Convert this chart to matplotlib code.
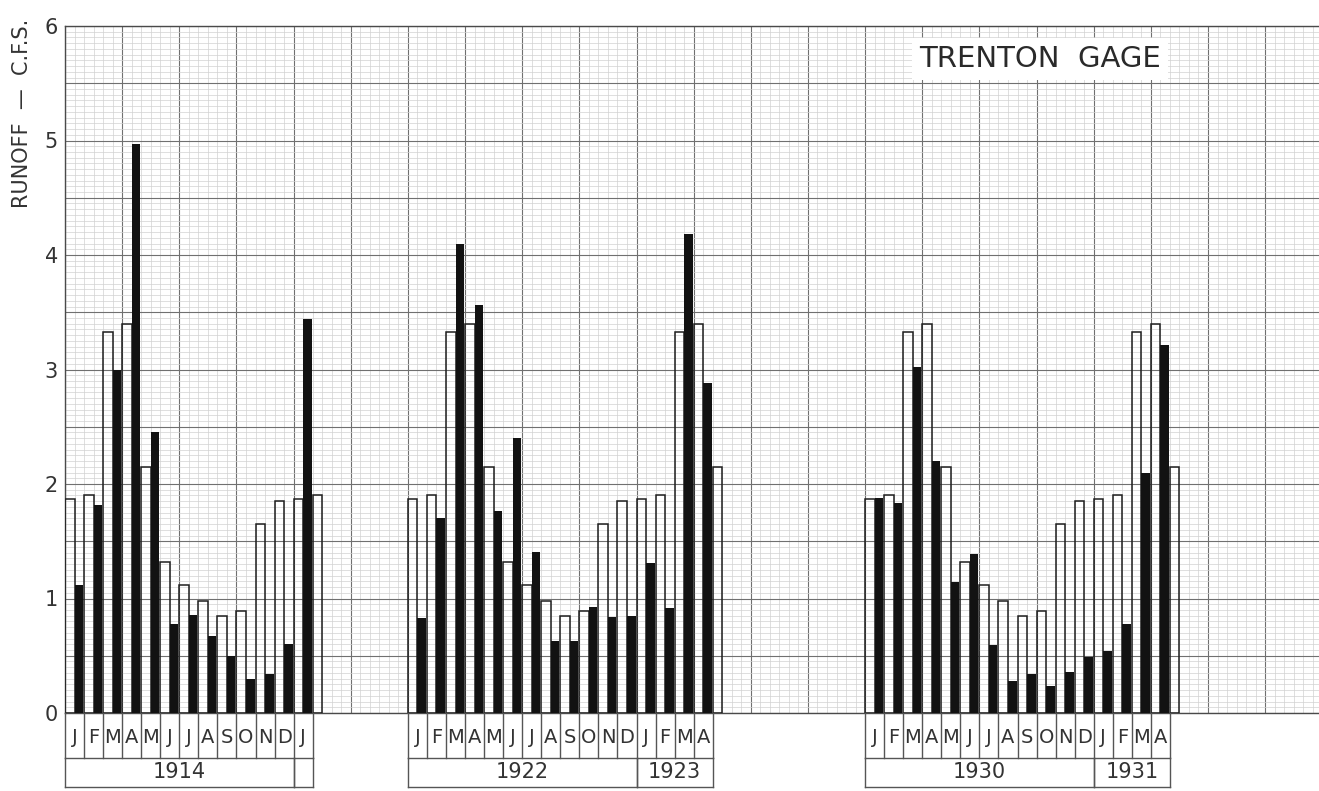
import matplotlib
matplotlib.use("Agg")
import matplotlib.pyplot as plt
from matplotlib.ticker import MultipleLocator, FuncFormatter

# Long-term mean monthly runoff (open bars), Jan..Dec
month_letters = ["J", "F", "M", "A", "M", "J", "J", "A", "S", "O", "N", "D"]
normal_runoff = [1.87, 1.90, 3.33, 3.40, 2.15, 1.32, 1.12, 0.98, 0.85, 0.89, 1.65, 1.85]

# Recorded monthly runoff (filled bars) for each period, starting in January
observed_1914 = [1.12, 1.82, 3.00, 4.97, 2.45, 0.78, 0.86, 0.67, 0.50, 0.30, 0.34, 0.60, 3.44]
observed_1922 = [0.83, 1.70, 4.10, 3.56, 1.76, 2.40, 1.41, 0.63, 0.63, 0.93, 0.84, 0.85,
                 1.31, 0.92, 4.18, 2.88]
observed_1930 = [1.88, 1.83, 3.02, 2.20, 1.14, 1.39, 0.59, 0.28, 0.34, 0.24, 0.36, 0.49,
                 0.54, 0.78, 2.10, 3.21]

# Month offset of each period on the time axis, and year spans below it
period_starts = [0, 18, 42]
period_observed = [observed_1914, observed_1922, observed_1930]
period_years = [
    [("1914", 0, 12), ("", 12, 13)],
    [("1922", 0, 12), ("1923", 12, 16)],
    [("1930", 0, 12), ("1931", 12, 16)],
]

W, H = 1319, 791
fig = plt.figure(figsize=(W / 100, H / 100), dpi=100)
fig.patch.set_facecolor("white")
ax = fig.add_axes([65 / W, 1 - 713 / H, (W - 65) / W, (713 - 26) / H])
ax.set_xlim(0, (W - 65) / 19.05)
ax.set_ylim(0, 6)

# graph-paper ruling
ax.xaxis.set_major_locator(MultipleLocator(3))
ax.xaxis.set_minor_locator(MultipleLocator(0.5))
ax.yaxis.set_major_locator(MultipleLocator(0.5))
ax.yaxis.set_minor_locator(MultipleLocator(0.05))
ax.grid(which="major", color="#707070", lw=0.8, zorder=1)
ax.grid(which="minor", color="#d2d2d2", lw=0.5, zorder=0)
ax.set_axisbelow(True)
ax.tick_params(which="both", length=0, labelbottom=False)
ax.yaxis.set_major_formatter(
    FuncFormatter(lambda v, pos: f"{int(round(v))}" if abs(v - round(v)) < 1e-6 else ""))
ax.tick_params(axis="y", pad=5, labelsize=15, labelcolor="#333333")
ax.spines["right"].set_visible(False)
for side in ["left", "top", "bottom"]:
    ax.spines[side].set_color("#4a4a4a")
    ax.spines[side].set_linewidth(1.0)

box_kw = dict(color="#555555", lw=1.0, clip_on=False, zorder=5)
row1, row2, row3 = 0.0, -0.393, -0.646

for start, obs, years in zip(period_starts, period_observed, period_years):
    n = len(obs)
    # open bars: mean runoff, one more month than the record
    open_x = [start + i for i in range(n + 1)]
    open_v = [normal_runoff[i % 12] for i in range(n + 1)]
    ax.bar(open_x, open_v, width=0.5, align="edge", facecolor="none",
           edgecolor="#1e1e1e", lw=1.1, zorder=3)
    # filled bars: recorded runoff
    obs_x = [start + i + 0.5 for i in range(n)]
    ax.bar(obs_x, obs, width=0.45, align="edge", color="#121212", lw=0, zorder=4)

    # month label row
    for i in range(n + 1):
        ax.plot([start + i, start + i], [row1, row2], **box_kw)
    for i in range(n):
        ax.text(start + i + 0.5, -0.21, month_letters[i % 12], ha="center", va="center",
                fontsize=14, color="#333333", clip_on=False)
    ax.plot([start, start + n], [row2, row2], **box_kw)
    # year row
    for label, a, b in years:
        ax.plot([start + a, start + a], [row2, row3], **box_kw)
        ax.plot([start + b, start + b], [row2, row3], **box_kw)
        if label:
            ax.text(start + (a + b) / 2, -0.515, label, ha="center", va="center",
                    fontsize=15, color="#333333", clip_on=False)
    ax.plot([start, start + n], [row3, row3], **box_kw)

ax.text(51.2, 5.71, "TRENTON  GAGE", ha="center", va="center", fontsize=21,
        color="#2a2a2a", zorder=6,
        bbox=dict(facecolor="white", edgecolor="none", pad=5))

fig.text(22 / W, 1 - 113 / H, "RUNOFF  —  C.F.S.", rotation=90, ha="center",
         va="center", fontsize=15, color="#333333")

fig.savefig("out.png", dpi=100, facecolor="white")
